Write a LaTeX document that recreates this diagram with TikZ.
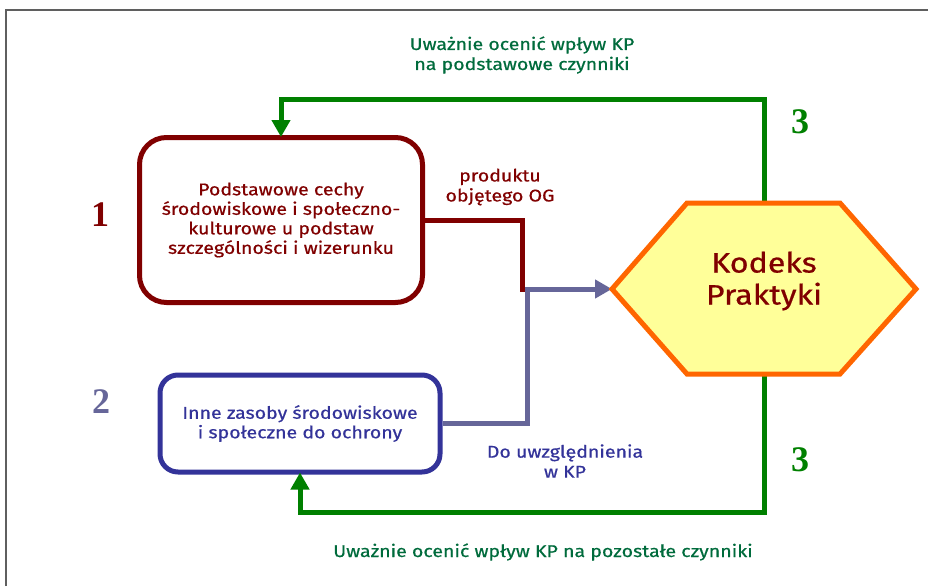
\documentclass[tikz,border=0pt]{standalone}
\usepackage{fontspec}
\setmainfont{Fira Sans}[FakeStretch=1.15, FakeBold=0.6]
\newfontfamily\numfont{Liberation Serif}
\usetikzlibrary{arrows.meta}

\definecolor{boxred}{HTML}{800000}
\definecolor{boxblue}{HTML}{333399}
\definecolor{linkblue}{HTML}{666699}
\definecolor{loopgreen}{HTML}{008000}
\definecolor{notegreen}{HTML}{006B3C}
\definecolor{hexorange}{HTML}{FF6600}
\definecolor{hexfill}{HTML}{FFFF99}
\definecolor{framegray}{HTML}{5F5F5F}

\begin{document}
\begin{tikzpicture}[x=1pt,y=-1pt,
  factorbox/.style={draw, rounded corners=#1, line width=5pt, fill=white,
    align=center, inner sep=0pt, font=\fontsize{17}{19.5}\selectfont},
  note/.style={align=center, inner sep=0pt, font=\fontsize{17}{20}\selectfont},
  stepno/.style={inner sep=0pt, font=\numfont\bfseries\fontsize{36}{36}\selectfont},
  link/.style={line width=5pt, line join=miter},
  tip/.style={-{Triangle[width=18pt,length=17pt]}}
]
\useasboundingbox (0,0) rectangle (928,586);

% frame
\draw[framegray, line width=2pt] (6,586) -- (6,10.5) -- (928,10.5);

% factor boxes
\node[factorbox=27pt, draw=boxred, text=boxred,
      minimum width=283pt, minimum height=165pt] (box1) at (281,220)
  {Podstawowe cechy\\środowiskowe i społeczno-\\kulturowe u podstaw\\szczególności i wizerunku};
\node[factorbox=18pt, draw=boxblue, text=boxblue,
      minimum width=280pt, minimum height=97pt] (box2) at (300,423.5)
  {Inne zasoby środowiskowe\\i społeczne do ochrony};

% hexagon corners and junctions
\coordinate (hexW) at (612,289);
\coordinate (hexN) at (764,203);
\coordinate (hexS) at (764,374);
\coordinate (j1) at (522,289);
\coordinate (j2) at (527,289);

% feedback loops
\draw[link, loopgreen, tip, shorten >=-2pt] (hexN) -- ++(0,-104) -| (box1.north);
\draw[link, loopgreen, tip, shorten >=-2pt] (hexS) -- ++(0,138) -| (box2.south);

% inputs
\draw[link, boxred, shorten >=-2.5pt] (box1.east) -| (j1);
\draw[link, linkblue, tip] (box2.east) -| (j2) -- (hexW);

% code of practice
\draw[line width=5pt, draw=hexorange, fill=hexfill, line join=miter]
  (hexW) -- (687,203) -- (840,203) -- (916,289) -- (840,374) -- (687,374) -- cycle;
\node[align=center, inner sep=0pt, text=boxred, font=\fontsize{28}{32}\selectfont] (kp) at (764,281)
  {Kodeks\\Praktyki};

% labels
\node[note, text=notegreen] (topnote) at (522,55) {Uważnie ocenić wpływ KP\\na podstawowe czynniki};
\node[note, text=notegreen] (botnote) at (543,552) {Uważnie ocenić wpływ KP na pozostałe czynniki};
\node[note, text=boxred] (prodnote) at (500,187) {produktu\\objętego OG};
\node[note, text=boxblue] (uwznote) at (565,461) {Do uwzględnienia\\w KP};

% step numbers
\node[stepno, text=boxred] (n1) at (100,215) {1};
\node[stepno, text=linkblue] (n2) at (101,402) {2};
\node[stepno, text=loopgreen] (n3a) at (800,122) {3};
\node[stepno, text=loopgreen] (n3b) at (800,460) {3};
\end{tikzpicture}
\end{document}
